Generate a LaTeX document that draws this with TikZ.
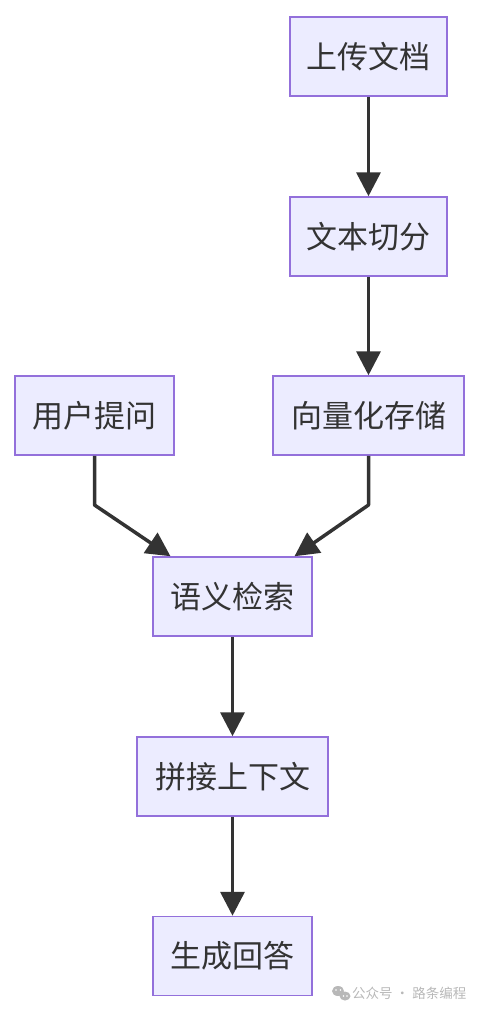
\documentclass[tikz,border=0pt]{standalone}
\usepackage{fontspec}
\setmainfont{Noto Sans CJK SC}
\usetikzlibrary{arrows.meta}
\definecolor{nodefill}{HTML}{ECECFF}
\definecolor{nodeborder}{HTML}{9370DB}
\definecolor{edge}{HTML}{333333}
\definecolor{wm}{HTML}{B8B8B8}
\begin{document}
\begin{tikzpicture}[x=1pt,y=-1pt,
  box/.style={draw=nodeborder,fill=nodefill,line width=1.5pt,inner sep=0pt,
    minimum height=79pt,text=edge,font=\fontsize{31}{34}\selectfont},
  flow/.style={draw=edge,line width=3.5pt,-{Triangle[length=24pt,width=24pt]}}]
\useasboundingbox (0,0) rectangle (480,1012);
\node[box,minimum width=157pt] (upload) at (368.5,56.5) {上传文档};
\node[box,minimum width=157pt] (split) at (368.5,236.5) {文本切分};
\node[box,minimum width=159pt] (ask) at (94.5,415.5) {用户提问};
\node[box,minimum width=191pt] (vec) at (368.5,415.5) {向量化存储};
\node[box,minimum width=159pt] (search) at (232.5,596.5) {语义检索};
\node[box,minimum width=191pt] (concat) at (232.5,776.5) {拼接上下文};
\node[box,minimum width=159pt] (answer) at (232.5,956) {生成回答};
\coordinate (askbend) at (94.5,505);
\coordinate (vecbend) at (368.5,505);
\draw[flow] (upload.south) -- (split.north);
\draw[flow] (split.south) -- (vec.north);
\draw[flow,line join=round] (ask.south) -- (askbend) -- ([xshift=-62pt]search.north);
\draw[flow,line join=round] (vec.south) -- (vecbend) -- ([xshift=62pt]search.north);
\draw[flow] (search.south) -- (concat.north);
\draw[flow] (concat.south) -- (answer.north);
\fill[wm] (338,991) ellipse (6pt and 5pt);
\fill[wm] (345,996) ellipse (5.5pt and 4.5pt);
\fill[white] (336,990) circle (0.9pt) (340.5,990) circle (0.9pt) (343.5,996) circle (0.8pt) (347,996) circle (0.8pt);
\node[text=wm,font=\fontsize{13.5}{16}\selectfont,anchor=west,inner sep=0pt] (wmtext) at (352,993) {公众号 · 路条编程};
\end{tikzpicture}
\end{document}
